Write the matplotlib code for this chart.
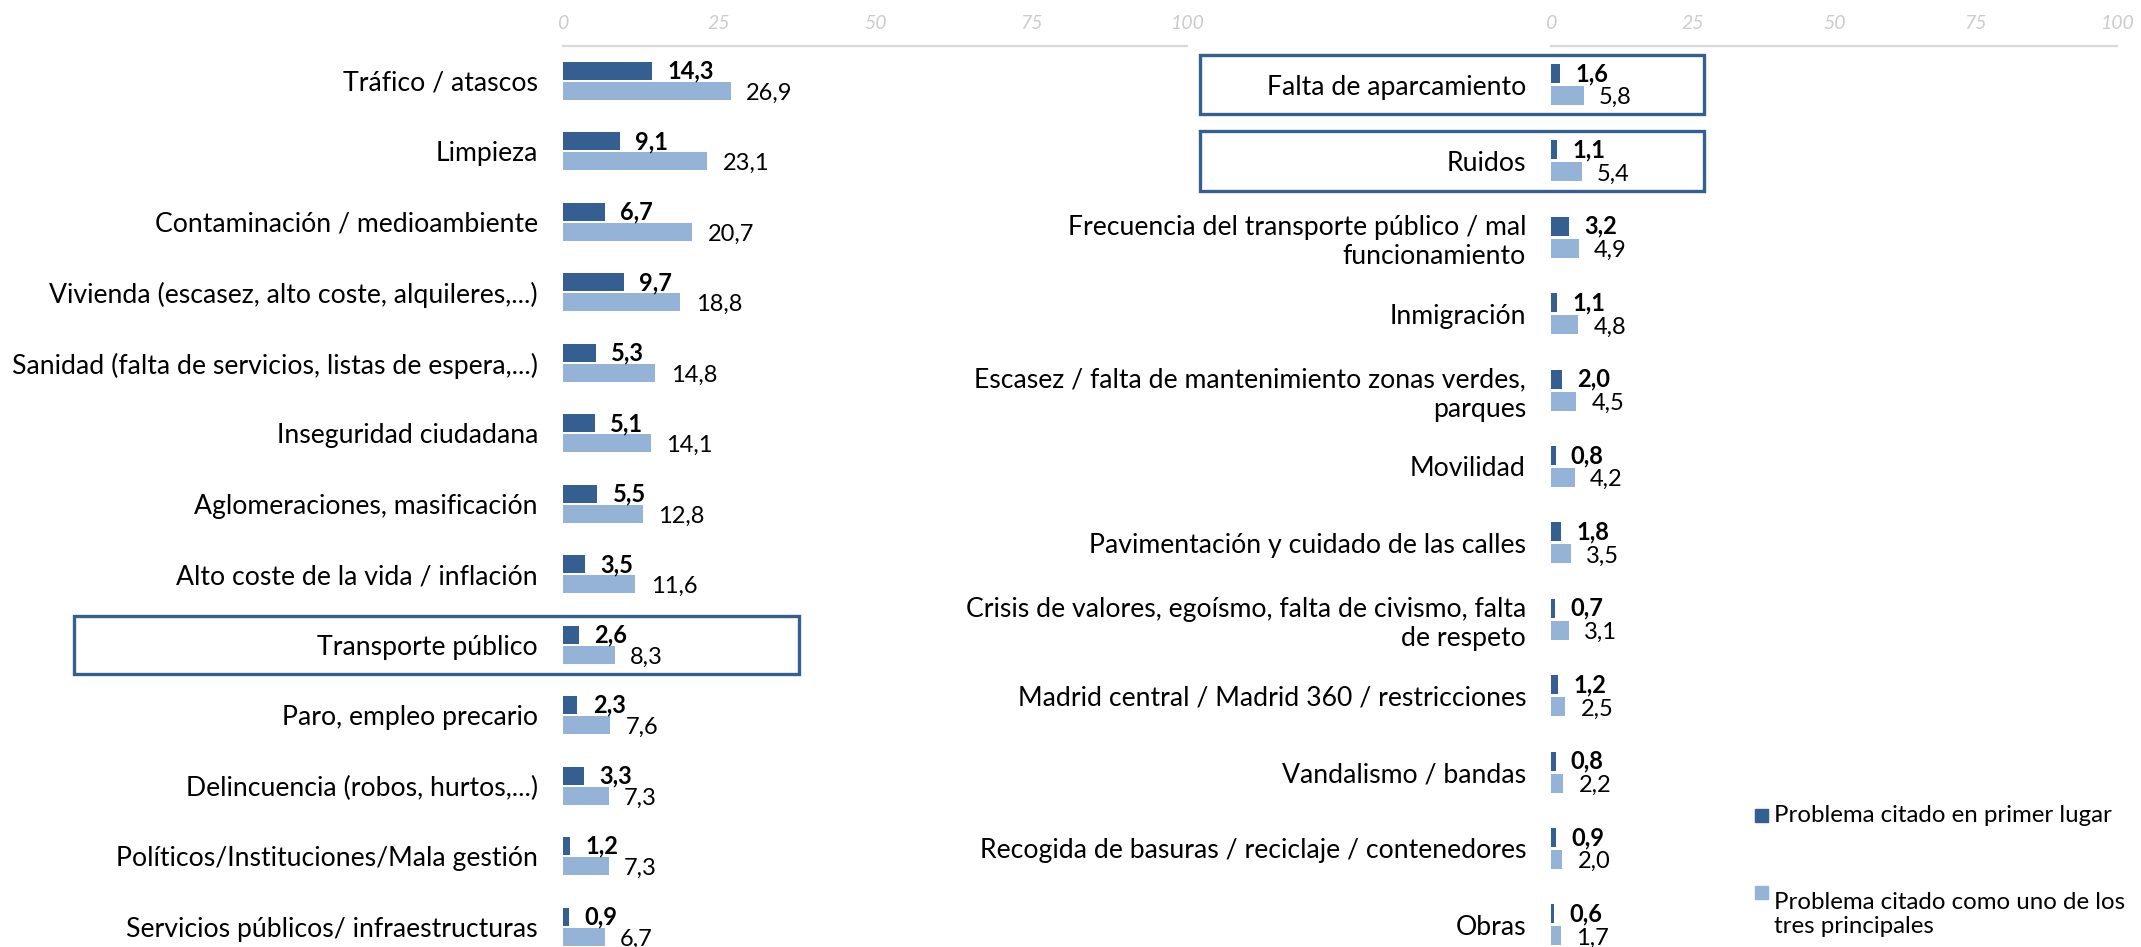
import numpy as np
import matplotlib.pyplot as plt
from matplotlib.patches import Rectangle
import matplotlib.transforms as mtransforms

plt.rcParams['font.family'] = ['Lato', 'DejaVu Sans']

DARK = '#365f91'
LIGHT = '#95b3d7'
GRID = '#d9d9d9'

# left panel
left_labels = ['Tráfico / atascos', 'Limpieza', 'Contaminación / medioambiente',
               'Vivienda (escasez, alto coste, alquileres,...)',
               'Sanidad (falta de servicios, listas de espera,...)',
               'Inseguridad ciudadana', 'Aglomeraciones, masificación',
               'Alto coste de la vida / inflación', 'Transporte público',
               'Paro, empleo precario', 'Delincuencia (robos, hurtos,...)',
               'Políticos/Instituciones/Mala gestión',
               'Servicios públicos/ infraestructuras']
left_first = [14.3, 9.1, 6.7, 9.7, 5.3, 5.1, 5.5, 3.5, 2.6, 2.3, 3.3, 1.2, 0.9]
left_top3 = [26.9, 23.1, 20.7, 18.8, 14.8, 14.1, 12.8, 11.6, 8.3, 7.6, 7.3, 7.3, 6.7]
left_boxed = ['Transporte público']

# right panel
right_labels = ['Falta de aparcamiento', 'Ruidos',
                'Frecuencia del transporte público / mal\nfuncionamiento',
                'Inmigración',
                'Escasez / falta de mantenimiento zonas verdes,\nparques',
                'Movilidad', 'Pavimentación y cuidado de las calles',
                'Crisis de valores, egoísmo, falta de civismo, falta\nde respeto',
                'Madrid central / Madrid 360 / restricciones',
                'Vandalismo / bandas',
                'Recogida de basuras / reciclaje / contenedores', 'Obras']
right_first = [1.6, 1.1, 3.2, 1.1, 2.0, 0.8, 1.8, 0.7, 1.2, 0.8, 0.9, 0.6]
right_top3 = [5.8, 5.4, 4.9, 4.8, 4.5, 4.2, 3.5, 3.1, 2.5, 2.2, 2.0, 1.7]
right_boxed = ['Falta de aparcamiento', 'Ruidos']

legend_labels = ['Problema citado en primer lugar',
                 'Problema citado como uno de los\ntres principales']

xticks = [0, 25, 50, 75, 100]

W, H = 2141, 947
fig = plt.figure(figsize=(W / 100, H / 100), dpi=100)


def fmt(v):
    return f'{v:.1f}'.replace('.', ',')


def panel(rect, labels, first, top3, boxed, ylim, h, off, box_x, box_h):
    ax = fig.add_axes(rect)
    rows = np.arange(len(labels))
    ax.barh(rows - off, first, height=h, color=DARK)
    ax.barh(rows + off, top3, height=h, color=LIGHT)
    for r, a, b in zip(rows, first, top3):
        ax.annotate(fmt(a), (a, r - off), xytext=(11, 0), textcoords='offset points',
                    va='center', ha='left', fontsize=17, fontweight='bold', color='black')
        ax.annotate(fmt(b), (b, r + off + 0.03), xytext=(11, 0), textcoords='offset points',
                    va='center', ha='left', fontsize=17, color='black')
    ax.set_xlim(0, 100)
    ax.set_ylim(*ylim)
    ax.set_yticks(rows)
    ax.set_yticklabels(labels, fontsize=19.2, linespacing=1.2)
    ax.tick_params(axis='y', length=0, pad=18)
    ax.xaxis.tick_top()
    ax.set_xticks(xticks)
    ax.set_xticklabels([str(t) for t in xticks], fontsize=14, style='italic', color='#cccccc')
    ax.tick_params(axis='x', length=0, pad=10)
    for s in ['left', 'right', 'bottom']:
        ax.spines[s].set_visible(False)
    ax.spines['top'].set_color(GRID)
    ax.spines['top'].set_linewidth(1.6)
    trans = mtransforms.blended_transform_factory(ax.transAxes, ax.transData)
    for lab in boxed:
        r = labels.index(lab)
        ax.add_patch(Rectangle((box_x[0], r - box_h), box_x[1] - box_x[0], 2 * box_h,
                               transform=trans, fill=False, edgecolor=DARK,
                               linewidth=2.4, clip_on=False))
    return ax


top_px = 46
ax_h = (H - top_px) / H
panel([563 / W, 0, 624 / W, ax_h], left_labels, left_first, left_top3, left_boxed,
      (12.285, -0.496), 0.255, 0.142, (-0.784, 0.378), 0.41)
panel([1551 / W, 0, 566 / W, ax_h], right_labels, right_first, right_top3, right_boxed,
      (11.29, -0.504), 0.248, 0.144, (-0.621, 0.270), 0.39)

# legend
leg_y = [815, 892]
for lab, col, y in zip(legend_labels, [DARK, LIGHT], leg_y):
    fig.patches.append(Rectangle((1755 / W, 1 - (y + 7) / H), 13 / W, 13 / H,
                                 transform=fig.transFigure, color=col))
    fig.text(1774 / W, 1 - y / H, lab, fontsize=17.3, va='top' if '\n' in lab else 'center',
             ha='left', linespacing=1.2)

fig.savefig('out.png', dpi=100)
